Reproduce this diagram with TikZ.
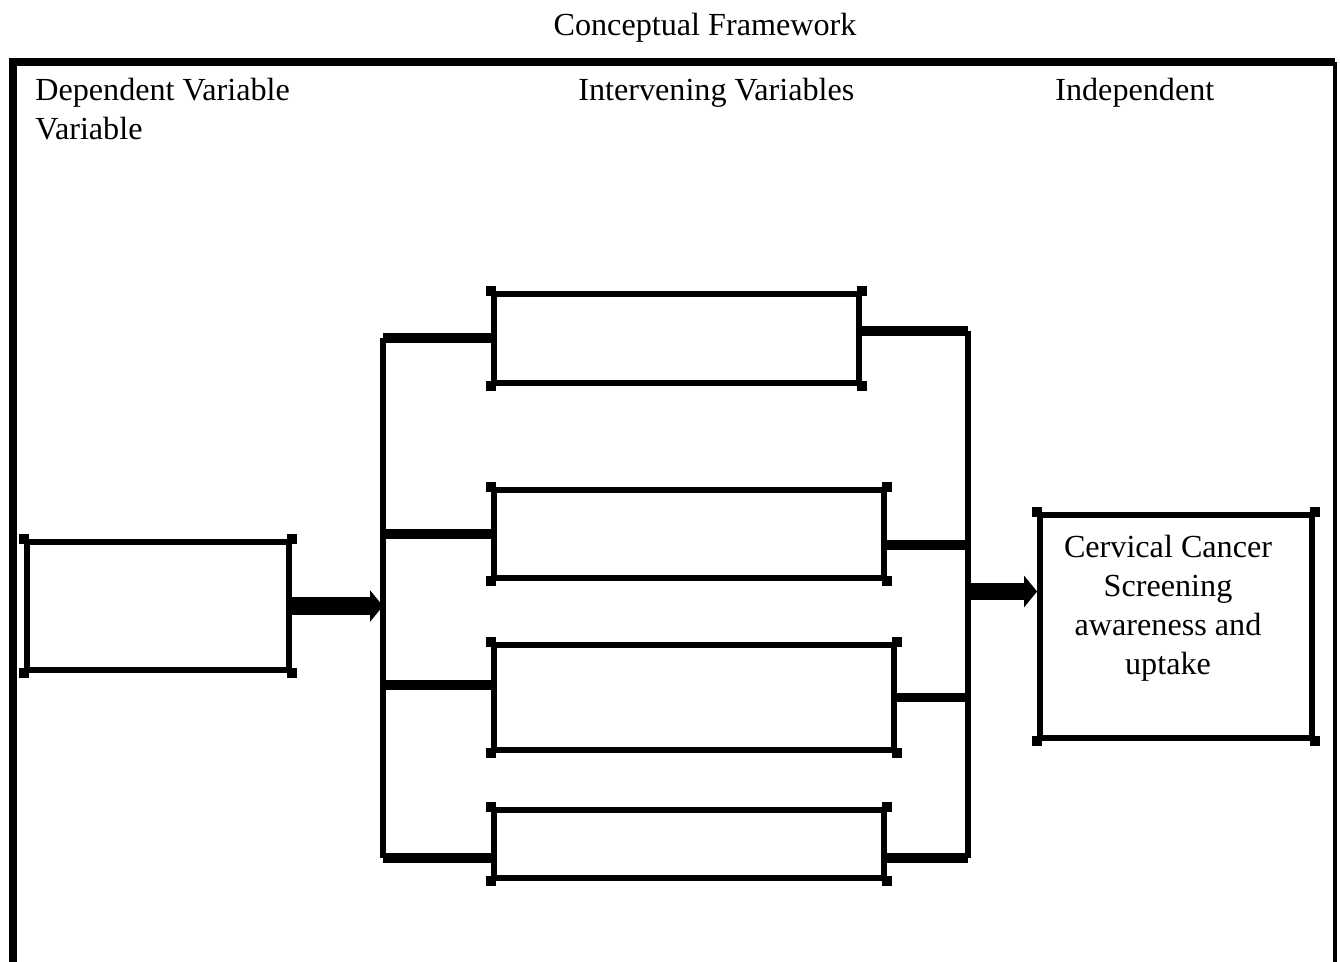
\documentclass[tikz,border=0pt]{standalone}
\usepackage{fontspec}
\setmainfont{Liberation Serif}
\usetikzlibrary{arrows.meta, positioning}

\tikzset{
    varbox/.style={draw, line width=3.3pt, minimum width=#1, inner sep=0pt},
    link/.style={line width=5.5pt},
    bus/.style={line width=3.3pt},
    bigarrow/.style={line width=10pt, -{Triangle[length=7.4pt, width=17.6pt]}},
    label/.style={font=\fontsize{18.3}{22.1}\selectfont, inner sep=0pt},
}

\begin{document}
\begin{tikzpicture}
    \useasboundingbox (0,0) rectangle (26.8,-19.22);

    % title and frame
    \node[label] (title) at (14.1,-0.55) {Conceptual Framework};
    \draw[line width=4pt] (0.26,-19.6) -- (0.26,-1.24) -- (26.7,-1.24);
    \draw[line width=1.8pt] (26.7,-1.24) -- (26.7,-19.6);

    \node[label, anchor=base west, align=left] (dep) at (0.7,-2.78) {Dependent Variable\\Variable};
    \node[label, anchor=base west] (inter) at (11.56,-2.0) {Intervening Variables};
    \node[label, anchor=base west] (indep) at (21.1,-2.0) {Independent};

    % boxes
    \node[varbox=5.24cm, minimum height=2.56cm] (dv) at (3.16,-12.12) {};
    \node[varbox=7.3cm, minimum height=1.78cm] (iv1) at (13.53,-6.77) {};
    \node[varbox=7.8cm, minimum height=1.76cm] (iv2) at (13.78,-10.68) {};
    \node[varbox=8.0cm, minimum height=2.1cm] (iv3) at (13.88,-13.95) {};
    \node[varbox=7.8cm, minimum height=1.36cm] (iv4) at (13.78,-16.88) {};
    \node[varbox=5.44cm, minimum height=4.46cm] (out) at (23.52,-12.53) {};
    \node[label, align=center, anchor=north] (outtext) at (23.36,-10.7)
        {Cervical Cancer\\Screening\\awareness and\\uptake};

    % little square ends at the corners
    \foreach \b in {dv, iv1, iv2, iv3, iv4, out}
        \foreach \c in {north west, north east, south west, south east}
            \fill (\b.\c) ++(-0.1,-0.1) rectangle ++(0.2,0.2);

    % buses
    \coordinate (lt) at (7.66,-6.76);
    \coordinate (lb) at (7.66,-17.16);
    \coordinate (rt) at (19.36,-6.62);
    \coordinate (rb) at (19.36,-17.16);
    \draw[bus] (lt) -- (lb);
    \draw[bus] (rt) -- (rb);

    % links
    \draw[link] (lt) -- (lt -| iv1.west);
    \draw[link] (iv2.west -| lt) -- (iv2.west);
    \draw[link] ([yshift=0.25cm]iv3.west -| lt) -- ([yshift=0.25cm]iv3.west);
    \draw[link] (lb) -- (lb -| iv4.west);
    \draw[link] (rt -| iv1.east) -- (rt);
    \draw[link] ([yshift=-0.22cm]iv2.east) -- ([yshift=-0.22cm]iv2.east -| rt);
    \draw[link] (iv3.east) -- (iv3.east -| rt);
    \draw[link] (rb -| iv4.east) -- (rb);

    % arrows
    \draw[bigarrow] (dv.east) -- (dv.east -| lt);
    \draw[bigarrow] ([yshift=0.7cm]out.west -| rt) -- ([yshift=0.7cm]out.west);
\end{tikzpicture}
\end{document}
